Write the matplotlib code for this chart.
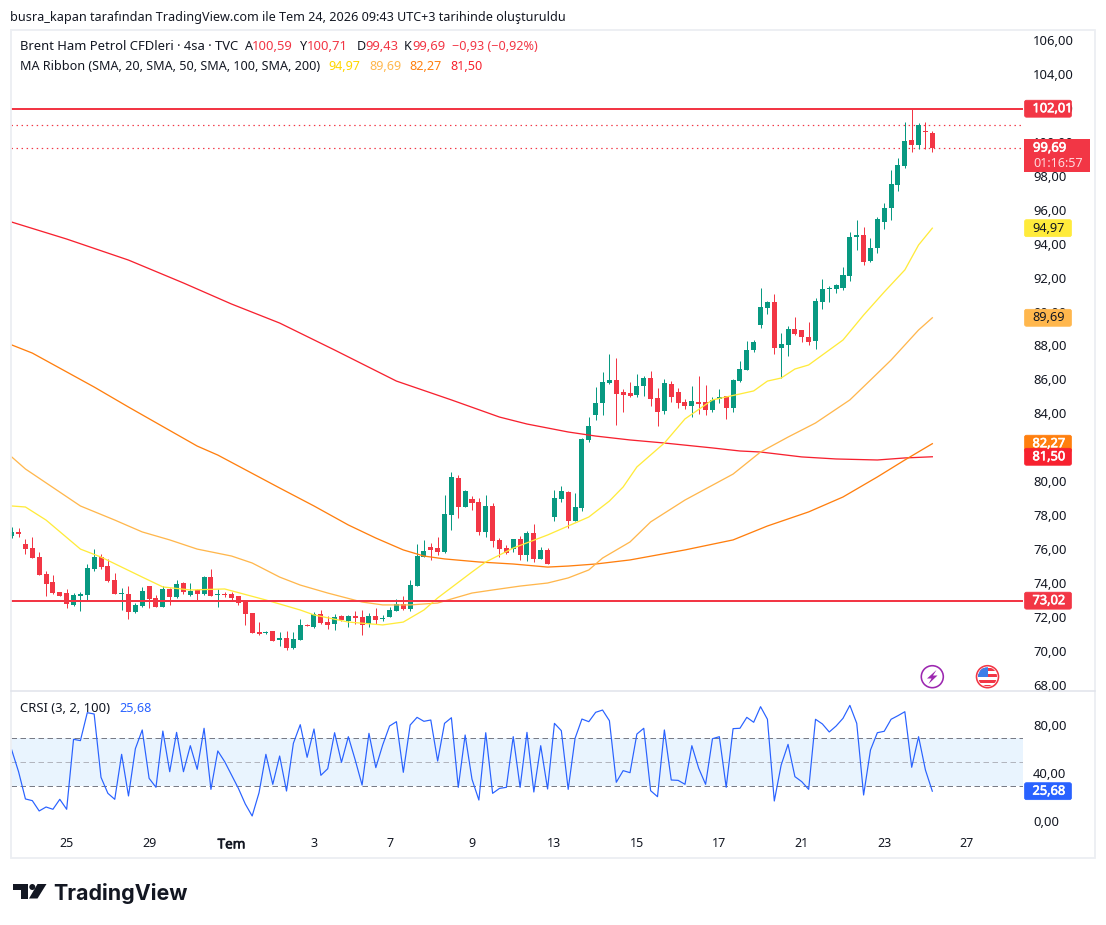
import matplotlib
matplotlib.use("Agg")
import matplotlib.pyplot as plt
import matplotlib.patheffects as pe
from matplotlib.transforms import ScaledTranslation
from matplotlib.patches import Rectangle, Polygon, Circle, FancyBboxPatch

# ---------- data ----------
opens = [76.83,77.06,76.36,76.12,75.59,74.59,74.12,73.53,73.47,72.76,
         73.29,73.35,74.88,75.59,75.06,74.24,73.41,73.41,72.35,72.70,
         73.88,73.18,72.65,73.71,73.24,74.06,73.35,73.65,73.41,74.41,
         73.35,73.41,73.41,73.29,73.00,72.29,71.17,71.11,71.23,70.70,
         70.82,70.23,70.71,71.61,71.47,72.24,71.77,71.65,72.12,71.82,
         72.12,72.06,71.65,72.12,71.96,72.06,72.41,72.83,72.53,73.89,
         75.60,76.18,76.13,75.89,78.07,80.25,78.54,79.01,78.84,77.07,
         78.60,76.60,76.13,76.07,76.66,75.71,77.01,75.48,76.01,77.95,
         79.01,79.43,77.72,78.48,82.49,83.97,84.67,85.85,86.03,85.32,
         85.26,85.14,85.67,86.15,84.97,84.20,85.79,85.32,84.73,84.50,
         84.73,84.73,84.26,84.91,85.09,84.38,85.97,86.62,87.80,89.27,
         90.27,90.62,87.91,88.08,89.03,88.97,88.56,88.32,90.62,91.38,
         91.38,91.44,92.15,94.45,94.57,93.03,93.80,95.33,96.16,97.51,
         98.63,100.16,99.87,100.69,100.59]
highs = [77.34,77.30,76.65,76.77,75.89,74.77,74.53,73.53,73.71,73.47,
         73.53,75.18,76.06,75.77,75.47,74.65,73.76,73.88,72.88,73.82,
         73.88,73.35,73.88,73.76,74.24,74.12,74.06,73.71,74.47,74.88,
         73.71,73.53,73.53,73.29,73.00,72.29,71.76,71.23,71.23,71.17,
         71.23,71.17,71.94,71.67,72.35,72.47,72.12,72.24,72.18,72.18,
         72.41,72.47,72.30,72.59,72.18,72.65,73.12,73.30,74.24,76.36,
         76.60,76.42,76.77,79.25,80.60,80.43,79.54,79.19,79.07,79.25,
         78.78,76.72,76.30,76.66,76.83,77.13,77.54,76.18,76.13,79.54,
         79.78,79.48,79.37,82.61,83.85,85.62,86.50,87.56,87.32,85.50,
         85.91,86.38,86.26,86.56,85.56,86.09,85.97,85.56,84.91,85.67,
         86.26,85.73,85.03,85.50,85.09,86.09,87.15,88.33,88.38,91.45,
         90.68,91.10,88.80,89.20,89.73,88.97,89.44,90.85,91.97,91.56,
         91.68,92.68,94.74,95.45,95.04,94.39,95.63,96.45,98.40,99.10,
         101.22,101.99,101.16,101.22,100.71]
lows = [76.71,76.79,75.77,75.53,74.53,73.29,73.41,73.29,72.59,72.70,
        72.41,73.06,74.77,74.88,74.12,73.41,72.47,71.94,72.29,72.65,
        72.59,72.65,72.65,72.76,73.18,73.41,73.29,73.06,73.35,73.29,
        72.65,73.24,73.06,72.76,71.58,71.11,71.00,71.05,70.64,70.35,
        70.11,70.17,70.71,71.53,71.41,71.65,71.35,71.29,71.82,71.47,
        71.65,71.00,71.47,71.65,71.82,72.06,72.41,72.47,72.41,73.89,
        75.60,75.42,75.71,75.83,77.19,77.89,78.54,78.36,76.89,76.77,
        76.18,75.60,75.77,75.89,75.42,75.36,75.30,75.48,75.18,77.72,
        78.84,77.30,77.72,78.30,82.37,83.67,83.97,85.79,83.38,84.14,
        85.03,85.03,85.09,84.50,83.32,84.03,84.73,84.38,84.32,83.85,
        84.03,83.97,84.14,84.67,83.73,84.14,85.91,86.62,87.68,89.09,
        89.92,87.56,86.15,87.44,88.67,88.26,88.08,87.85,90.21,90.62,
        91.15,91.33,91.86,93.68,92.80,92.97,93.50,94.92,95.45,97.16,
        98.51,99.46,99.63,99.63,99.43]
closes = [77.06,76.95,76.06,75.53,74.53,74.00,73.47,73.29,72.82,73.35,
          73.41,74.94,75.59,75.00,74.18,73.41,73.47,72.35,72.76,73.59,
          73.12,72.65,73.71,73.24,74.00,73.53,73.59,73.41,74.41,73.29,
          73.41,73.35,73.18,72.88,72.23,71.11,71.05,71.17,70.64,70.82,
          70.23,70.76,71.59,71.55,72.24,71.71,71.59,72.06,71.88,72.12,
          72.00,71.59,72.12,71.88,72.02,72.47,72.83,72.53,73.95,75.65,
          75.95,76.01,75.89,78.13,80.31,78.54,79.48,78.78,77.07,78.60,
          76.54,76.07,75.83,76.66,75.71,77.01,75.48,76.01,75.18,79.07,
          79.48,77.72,78.54,82.55,83.32,84.67,85.91,86.03,85.20,85.14,
          85.09,85.67,86.15,84.91,84.14,85.85,85.03,84.67,84.50,84.79,
          84.61,84.26,84.85,85.03,84.38,86.03,86.68,87.80,88.27,90.33,
          90.62,87.91,88.15,89.03,88.73,88.56,88.26,90.68,91.38,91.44,
          91.62,92.21,94.45,94.57,92.97,93.80,95.51,96.16,97.57,98.69,
          100.10,99.87,101.05,100.63,99.69]

ma20_idx = [0,2,5,10,13,19,22,26,31,37,42,44,49,54,57,60,62,67,69,73,78,81,84,87,89,91,95,98,102,106,108,110,112,114,116,121,124,127,130,132,134]
ma20_val = [78.60,78.54,77.77,76.06,75.59,74.41,73.83,73.65,73.71,73.06,72.47,72.18,71.76,71.59,71.76,72.47,73.18,74.71,75.30,76.12,76.89,77.42,77.95,78.89,79.72,80.90,82.31,83.73,84.85,85.20,85.38,85.96,86.14,86.67,86.91,88.38,89.85,91.21,92.51,93.98,94.97]
ma50_idx = [0,2,10,15,19,23,27,32,35,39,42,46,51,54,58,62,64,67,70,74,78,81,84,86,90,93,98,105,109,113,117,122,125,128,132,134]
ma50_val = [81.49,80.78,78.60,77.77,77.07,76.60,76.06,75.65,75.24,74.41,73.94,73.47,72.94,72.77,72.77,72.88,73.12,73.47,73.65,73.88,74.06,74.36,74.83,75.53,76.48,77.66,78.95,80.48,81.78,82.66,83.49,84.85,86.02,87.20,88.97,89.69]
ma100_idx = [0,3,12,17,27,30,39,44,49,53,57,60,63,68,73,78,81,85,90,98,105,110,116,121,126,130,134]
ma100_val = [88.09,87.61,85.61,84.43,82.13,81.60,79.66,78.60,77.48,76.71,76.01,75.65,75.48,75.30,75.18,75.00,75.06,75.18,75.42,76.01,76.60,77.42,78.25,79.13,80.31,81.31,82.27]
ma200_idx = [0,8,17,25,32,39,47,56,64,71,75,81,85,90,95,102,106,109,115,120,126,130,134]
ma200_val = [95.33,94.33,93.09,91.74,90.50,89.38,87.79,85.96,84.85,83.84,83.43,82.96,82.72,82.49,82.31,82.02,81.84,81.78,81.49,81.37,81.31,81.43,81.50]

crsi = [60,41.9,19.2,17.8,9.2,12.5,10.6,18.9,10.6,68.9,67.8,91.1,90,37.2,23.9,18.9,56.4,21.7,61.1,76.7,
        36.4,28.9,75.8,41.9,74.7,41.9,63.6,43.9,78.1,27.2,59.2,50.3,39.2,28,15,5,24.4,56.4,31.4,55,
        25.8,65.6,81.1,53.9,77.5,38.9,44.4,74.4,49.7,71.1,51.7,30.8,73.9,45.3,64.2,80,83.6,41.4,80.8,87.2,
        83.9,85,50.8,82.2,86.9,28.9,72.5,35.6,18.3,74.4,23.9,28,28.9,71.1,28.9,74.7,25,63.6,27.5,82.2,
        76.1,27.2,69.7,85.8,83.6,91.4,93.3,84.4,33.1,42.8,41.1,73.3,78.1,26.1,21.1,76.7,35,34.7,31.4,63.6,
        44.7,31.4,69.4,71.1,28.9,77.8,78.1,87.2,83.1,96.1,85.6,17.5,47.5,64.7,37.8,33.6,27.2,85.6,81.7,75,
        80,86.4,97.2,82.2,22.5,60,74.4,75.6,85.6,88.6,91.9,45.6,71.1,43.3,25.68]

price_ticks = [68,70,72,74,76,78,80,82,84,86,88,90,92,94,96,98,100,102,104,106]
crsi_ticks = [0,40,80]
time_idx = [8,20,32,44,55,67,79,91,103,115,127,139]
time_labels = ["25","29","Tem","3","7","9","13","15","17","21","23","27"]

support = 73.02
resistance = 102.01
dotted_levels = [101.03, 99.69]
crsi_band = (30, 70)
crsi_mid = 50

# ---------- style ----------
W, H = 1106, 925
GREEN, RED = "#089981", "#f23645"
INK = "#131722"
FONT = "Noto Sans"
plt.rcParams["font.family"] = [FONT, "DejaVu Sans"]
PT = 0.72  # px -> pt at dpi 100

fig = plt.figure(figsize=(W/100, H/100), dpi=100, facecolor="white")

def heavy(color, w=0.45):
    return [pe.Stroke(linewidth=w, foreground=color), pe.Normal()]

def pane(left, top, right, bottom):
    return fig.add_axes([left/W, 1-bottom/H, (right-left)/W, (bottom-top)/H])

ax = pane(11, 30, 1023, 691)
ax2 = pane(11, 692, 1023, 826)

xlim = (-0.102, 147.2)
for a in (ax, ax2):
    a.set_xlim(*xlim)
    a.set_facecolor("white")
    for s in a.spines.values():
        s.set_visible(False)
ax.set_ylim(67.697, 106.648)
ax2.set_ylim(-3.33, 108.33)

# price ticks
ax.yaxis.tick_right()
ax.set_yticks(price_ticks)
ax.set_yticklabels([f"{t},00" for t in price_ticks])
ax.tick_params(axis="y", length=0, pad=7.2, labelsize=13*PT, labelcolor=INK)
ax.set_xticks([])

# candles
xs = list(range(len(opens)))
cols = [GREEN if c >= o else RED for o, c in zip(opens, closes)]
ax.vlines(xs, lows, highs, colors=cols, linewidth=1.0*PT, zorder=3)
ax.bar(xs, [max(abs(c-o), 0.06) for o, c in zip(opens, closes)],
       bottom=[min(o, c) for o, c in zip(opens, closes)],
       width=0.73, color=cols, linewidth=0, zorder=3)

# MA ribbon
ax.plot(ma200_idx, ma200_val, color="#f7212f", lw=1.3*PT, zorder=4)
ax.plot(ma100_idx, ma100_val, color="#ff7f0e", lw=1.3*PT, zorder=4)
ax.plot(ma50_idx, ma50_val, color="#ffb74d", lw=1.3*PT, zorder=4)
ax.plot(ma20_idx, ma20_val, color="#ffeb3b", lw=1.3*PT, zorder=4)

# levels
for lv in (support, resistance):
    ax.axhline(lv, color=RED, lw=2.0*PT, zorder=5)
for lv in dotted_levels:
    ax.axhline(lv, color=RED, lw=1.2*PT, ls=(0, (1.2, 3)), zorder=2)

# CRSI
ax2.axhspan(crsi_band[0], crsi_band[1], color="#e9f4fe", lw=0, zorder=1)
for lv in crsi_band:
    ax2.axhline(lv, color="#787b86", lw=1.0*PT, ls=(0, (5.5, 3.5)), zorder=2)
ax2.axhline(crsi_mid, color="#b2b5be", lw=1.0*PT, ls=(0, (5.5, 3.5)), zorder=2)
ax2.plot(xs, crsi, color="#2962ff", lw=1.2*PT, zorder=3)
ax2.yaxis.tick_right()
ax2.set_yticks(crsi_ticks)
ax2.set_yticklabels([f"{t},00" for t in crsi_ticks])
ax2.tick_params(axis="y", length=0, pad=7.2, labelsize=13*PT, labelcolor=INK)
ax2.set_xticks(time_idx)
ax2.set_xticklabels(time_labels)
ax2.tick_params(axis="x", length=0, pad=8.2, labelsize=12.5*PT, labelcolor=INK)
for lab in ax2.get_xticklabels():
    if lab.get_text() == "Tem":
        lab.set_fontsize(13.5*PT)
        lab.set_path_effects(heavy(INK))

up_one = ScaledTranslation(0, 1/100, fig.dpi_scale_trans)
for a in (ax, ax2):
    for lab in a.get_yticklabels():
        lab.set_transform(lab.get_transform() + up_one)

# ---------- overlay in pixel space ----------
ov = fig.add_axes([0, 0, 1, 1], zorder=10)
ov.set_xlim(0, W)
ov.set_ylim(H, 0)
ov.axis("off")
ov.patch.set_alpha(0)
fig.canvas.draw()

def ypx(a, v):
    return H - a.transData.transform((0, v))[1]

# frame
BORDER = "#eceef2"
ov.add_patch(Rectangle((11, 30), 1084, 828, fill=False, ec=BORDER, lw=1.8*PT))
ov.plot([11, 1095], [691, 691], color="#e0e3eb", lw=1.5*PT)

def tag(a, val, text, bg, fg, w=48, h=18, bold=False):
    y = ypx(a, val)
    ov.add_patch(FancyBboxPatch((1024.5, y-h/2+.5), w-1, h-1, boxstyle="round,pad=0,rounding_size=2",
                                fc=bg, ec=bg, lw=0.5))
    t = ov.text(1032.5, y, text, color=fg, fontsize=12.8*PT, va="center", ha="left")
    if bold:
        t.set_path_effects(heavy(fg))

tag(ax, resistance, "102,01", RED, "white", bold=True)
tag(ax, 94.97, "94,97", "#ffeb3b", INK)
tag(ax, 89.69, "89,69", "#ffb74d", INK)
tag(ax, 82.27, "82,27", "#ff7f0e", "white", bold=True)
tag(ax, 81.50, "81,50", "#f7212f", "white", bold=True)
tag(ax, support, "73,02", RED, "white", bold=True)
tag(ax2, 25.68, "25,68", "#2962ff", "white", bold=True)

# last price tag
ylast = ypx(ax, closes[-1])
ov.add_patch(Rectangle((1024, ylast-9), 66, 33, fc=RED, ec="none"))
ov.text(1033, ylast, "99,69", color="white", fontsize=13*PT, va="center", path_effects=heavy("white"))
ov.text(1033, ylast+15, "01:16:57", color="#ffd9dd", fontsize=12.6*PT, va="center")

# header texts
ov.text(10, 17, "busra_kapan tarafından TradingView.com ile Tem 24, 2026 09:43 UTC+3 tarihinde oluşturuldu",
        color=INK, fontsize=12.63*PT, va="center")
for x, s, c, fs in [(20, "Brent Ham Petrol CFDleri · 4sa · TVC", INK, 13),
                    (245, "A", INK, 12.6), (252, "100,59", RED, 13),
                    (300, "Y", INK, 12.6), (307, "100,71", RED, 13),
                    (357, "D", INK, 12.6), (365, "99,43", RED, 13),
                    (404, "K", INK, 12.6), (412, "99,69", RED, 13),
                    (452, "−0,93 (−0,92%)", RED, 12.6)]:
    ov.text(x, 47, s, color=c, fontsize=fs*PT, va="center")
for x, s, c in [(20, "MA Ribbon (SMA, 20, SMA, 50, SMA, 100, SMA, 200)", INK),
                (328, "94,97", "#ffd600"), (369, "89,69", "#ffb74d"),
                (409, "82,27", "#ff7f0e"), (450, "81,50", "#f7212f")]:
    ov.text(x, 66, s, color=c, fontsize=12.6*PT, va="center")
ov.text(20, 709, "CRSI (3, 2, 100)", color=INK, fontsize=13*PT, va="center")
ov.text(119, 709, "25,68", color="#2962ff", fontsize=12.6*PT, va="center")

# event icons
PURPLE = "#9c27b0"
ov.add_patch(Circle((932.3, 676.7), 11, fc="white", ec=PURPLE, lw=1.6*PT))
ov.add_patch(Polygon([(936.5, 670), (927, 678.5), (931.5, 678.5), (928.5, 684), (937.5, 675.5), (933, 675.5)],
                     closed=True, fc=PURPLE, ec="none"))
cx, cy = 987.5, 676.7
clip = Circle((cx, cy), 9.5, transform=ov.transData)
ov.add_patch(Circle((cx, cy), 11, fc="white", ec=RED, lw=1.6*PT))
for yy, hh in [(668, 3), (674, 3), (680, 3), (685, 2)]:
    r = Rectangle((cx-10, yy), 20, hh, fc=RED, ec="none")
    ov.add_patch(r); r.set_clip_path(clip)
r = Rectangle((cx-10, 667), 10.5, 10, fc="#3d7ee8", ec="none")
ov.add_patch(r); r.set_clip_path(clip)

# TradingView logo
ov.add_patch(Polygon([(13, 884), (28, 884), (28, 898.5), (20.5, 898.5), (20.5, 890), (13, 890)],
                     closed=True, fc="#131722", ec="none"))
ov.add_patch(Circle((32.3, 887), 3, fc="#131722", ec="none"))
ov.add_patch(Polygon([(37.5, 884), (46.5, 884), (37.5, 898.5), (29, 898.5)], closed=True, fc="#131722", ec="none"))
ov.text(53, 893, "TradingView", color="#131722", fontsize=21.4*PT, va="center", family="Inter", fontweight="bold")

fig.savefig("out.png", dpi=100, facecolor="white")
